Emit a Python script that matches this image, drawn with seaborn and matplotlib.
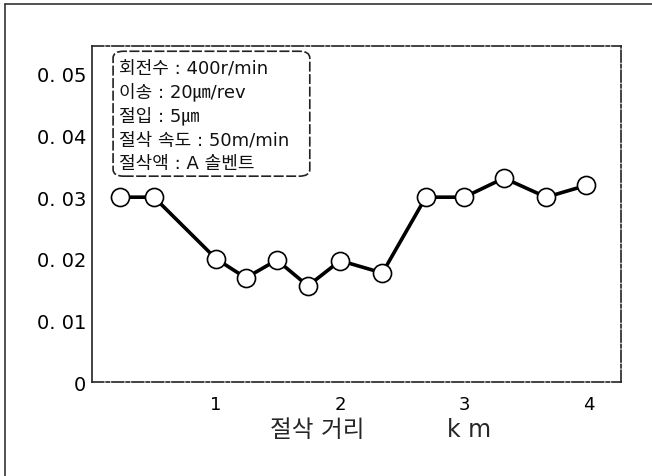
import matplotlib
matplotlib.use("Agg")
import matplotlib.pyplot as plt
import seaborn as sns
import pandas as pd
from matplotlib.patches import FancyBboxPatch
from matplotlib.lines import Line2D

# Data
distance_km = [0.23, 0.50, 1.00, 1.24, 1.49, 1.74, 2.00, 2.34, 2.69, 3.00, 3.32, 3.66, 3.98]
wear = [0.030, 0.030, 0.020, 0.0169, 0.0198, 0.0156, 0.0197, 0.0177, 0.030, 0.030, 0.0331, 0.030, 0.0319]

y_ticks = [0, 0.01, 0.02, 0.03, 0.04, 0.05]
y_ticklabels = ["0", "0. 01", "0. 02", "0. 03", "0. 04", "0. 05"]
x_ticks = [1, 2, 3, 4]
x_ticklabels = ["1", "2", "3", "4"]
conditions = ["회전수 : 400r/min", "이송 : 20㎛/rev", "절입 : 5㎛",
              "절삭 속도 : 50m/min", "절삭액 : A 솔벤트"]
x_label = "절삭 거리           k m"

sns.set_theme(style="white")
plt.rcParams['font.family'] = ['DejaVu Sans', 'Noto Sans CJK KR']

df = pd.DataFrame({"distance": distance_km, "wear": wear})

fig = plt.figure(figsize=(6.52, 4.77), dpi=100)
ax = fig.add_axes([0.141, 0.197, 0.811, 0.704])

sns.lineplot(data=df, x="distance", y="wear", ax=ax, color="black", linewidth=2.6,
             marker="o", markersize=13, markerfacecolor="white",
             markeredgecolor="black", markeredgewidth=1.2)

ax.set_xlim(0, 4.26)
ax.set_ylim(0, 0.0545)
ax.set_xticks(x_ticks)
ax.set_xticklabels(x_ticklabels, fontsize=13)
ax.set_yticks(y_ticks)
ax.set_yticklabels(y_ticklabels, fontsize=14)
ax.set_xlabel(x_label, fontsize=17, labelpad=4)
ax.xaxis.set_label_coords(0.545, -0.105)
ax.set_ylabel("")
ax.tick_params(axis="both", direction="in", length=5, width=1, colors="black")
ax.tick_params(axis="x", pad=9)
ax.tick_params(axis="y", pad=4)

for name, sp in ax.spines.items():
    sp.set_visible(True)
    sp.set_color("#222222")
    sp.set_linewidth(1.2)
    if name in ("top", "bottom", "right"):
        sp.set_linestyle((0, (7, 1.5, 2, 1.5)))

# Conditions box
box = FancyBboxPatch((0.040, 0.613), 0.372, 0.372, transform=ax.transAxes,
                     boxstyle="round,pad=0,rounding_size=0.02",
                     facecolor="white", edgecolor="#222222", linewidth=1.2,
                     linestyle=(0, (6, 1.5)), zorder=3)
ax.add_patch(box)
for i, t in enumerate(conditions):
    ax.text(0.052, 0.9375 - i * 0.0714, t, transform=ax.transAxes, fontsize=13,
            va="center", ha="left", color="#111111", zorder=4)

# Outer frame lines (top and left)
fig.add_artist(Line2D([0.008, 1.0], [0.989, 0.989], transform=fig.transFigure,
                      color="#333333", linewidth=1.2))
fig.add_artist(Line2D([0.008, 0.008], [0.0, 0.989], transform=fig.transFigure,
                      color="#333333", linewidth=1.2))

fig.savefig("out.png", dpi=100)
